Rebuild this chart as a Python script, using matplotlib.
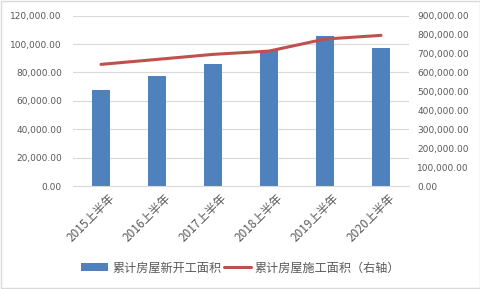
import matplotlib
matplotlib.use("Agg")
import matplotlib.pyplot as plt
import matplotlib.transforms as mtransforms
from matplotlib.patches import Rectangle
from matplotlib.ticker import FuncFormatter

plt.rcParams["font.family"] = ["Noto Sans CJK SC", "DejaVu Sans"]

periods = ["2015上半年", "2016上半年", "2017上半年", "2018上半年", "2019上半年", "2020上半年"]
new_starts = [67600, 77400, 85900, 96000, 105700, 97200]          # left axis
under_construction = [642700, 669000, 695600, 713000, 776600, 796000]  # right axis

BAR_NAME = "累计房屋新开工面积"
LINE_NAME = "累计房屋施工面积（右轴）"
BLUE = "#4f81bd"
RED = "#c0504d"
GRID = "#d9d9d9"
TEXT = "#595959"

fmt = FuncFormatter(lambda v, _: f"{v:,.2f}")

fig = plt.figure(figsize=(4.81, 2.89), dpi=100)
ax = fig.add_axes([0.1518, 0.3564, 0.6985, 0.5893])
ax2 = ax.twinx()

x = range(len(periods))
bars = ax.bar(x, new_starts, width=0.32, color=BLUE, zorder=2)
line, = ax2.plot(x, under_construction, color=RED, lw=2.2, solid_capstyle="round",
                 solid_joinstyle="round", zorder=3)

ax.set_xlim(-0.5, len(periods) - 0.5)
ax.set_ylim(0, 120000)
ax.set_yticks(range(0, 120001, 20000))
ax2.set_ylim(0, 900000)
ax2.set_yticks(range(0, 900001, 100000))
ax.yaxis.set_major_formatter(fmt)
ax2.yaxis.set_major_formatter(fmt)

ax.grid(axis="y", color=GRID, lw=0.8, zorder=0)
ax.set_axisbelow(True)
for a in (ax, ax2):
    for s in a.spines.values():
        s.set_visible(False)
    a.tick_params(length=0, labelsize=6.5, labelcolor=TEXT)
    for lab in a.get_yticklabels():
        lab.set_family("DejaVu Sans")
ax.tick_params(axis="y", pad=8)
ax2.tick_params(axis="y", pad=6)
ax.spines["bottom"].set_visible(True)
ax.spines["bottom"].set_color(GRID)

ax.set_xticks(list(x))
ax.set_xticklabels(periods, rotation=45, ha="right", rotation_mode="anchor", fontsize=8.5)
ax.tick_params(axis="x", pad=4)
shift = mtransforms.ScaledTranslation(7 / 100, 0, fig.dpi_scale_trans)
for lab in ax.get_xticklabels():
    lab.set_transform(lab.get_transform() + shift)

fig.legend([bars, line], [BAR_NAME, LINE_NAME], loc="center", bbox_to_anchor=(0.5, 0.073),
           ncol=2, frameon=False, fontsize=8.7, labelcolor=TEXT, handlelength=2.3,
           handletextpad=0.3, columnspacing=0.2)

fig.patches.append(Rectangle((0.002, 0.003), 0.996, 0.994, transform=fig.transFigure,
                             fill=False, edgecolor=GRID, lw=1))

fig.savefig("out.png", dpi=100)
